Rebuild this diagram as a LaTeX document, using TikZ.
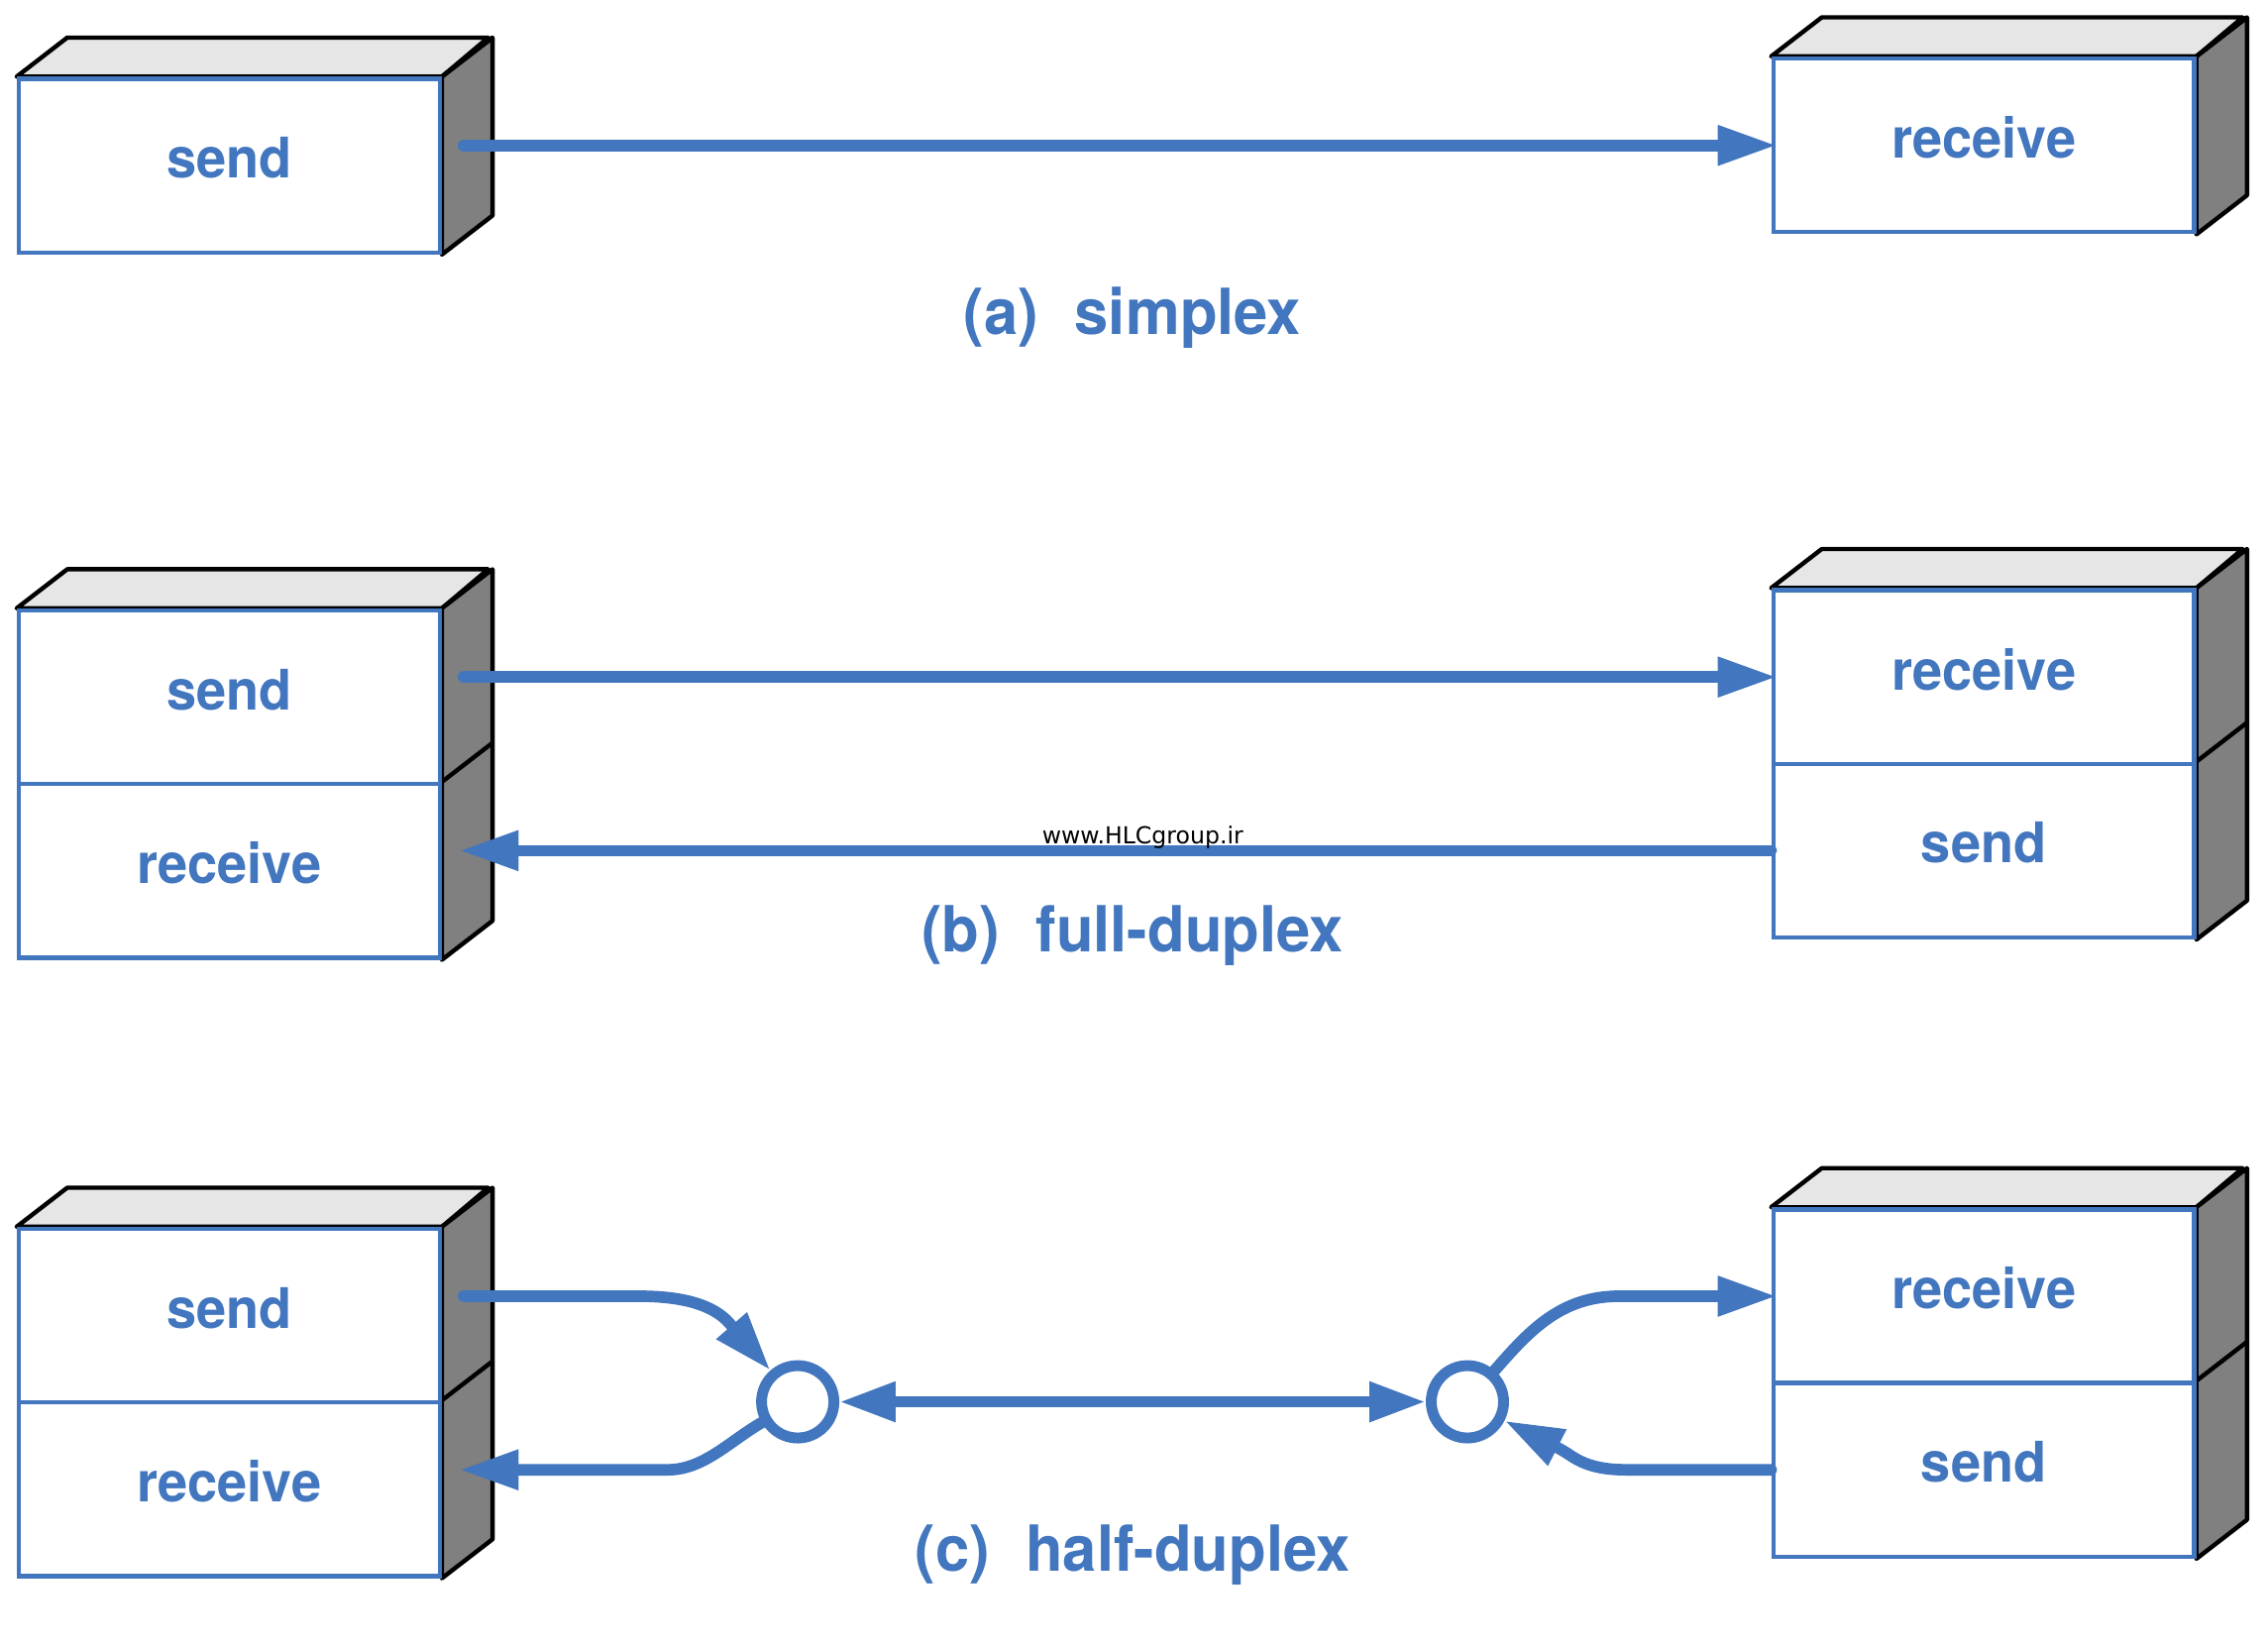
\documentclass[tikz,border=0pt]{standalone}
\usepackage{fontspec}
\setmainfont{TeX Gyre Heros}
\newfontfamily\labfont[FakeStretch=0.96]{TeX Gyre Heros}
\newfontfamily\wmfont{DejaVu Sans}
\usetikzlibrary{arrows.meta,calc,backgrounds}
\definecolor{bl}{RGB}{66,118,190}
\definecolor{topgray}{RGB}{230,230,230}
\definecolor{sidegray}{RGB}{128,128,128}
\newcommand{\boxfaces}[2]{%
  \begin{scope}[on background layer]
    \filldraw[face, fill=topgray] (#1.north west) -- ++(35,-27) -- ++(291,0) -- (#1.north east) -- cycle;
    \filldraw[face, fill=sidegray] (#1.north east) -- ++(35,-27) -- ($(#2.south east)+(35,-27)$) -- (#2.south east) -- cycle;
    \draw[face] (#2.north east) -- ++(35,-27);
  \end{scope}}
\begin{document}
\begin{tikzpicture}[x=0.1mm,y=-0.1mm,
  comp/.style={draw=bl, line width=0.3mm, fill=white, minimum width=29.1mm, minimum height=12mm,
    inner sep=0pt, text depth=1.1mm, text=bl, font=\labfont\bfseries\fontsize{11}{13}\selectfont},
  face/.style={draw=black, line width=0.3mm, line join=round},
  conn/.style={draw=bl, line width=0.8mm, line cap=round, -{Triangle[length=4.1mm,width=2.6mm]}},
  intobox/.style={conn, shorten >=-0.4mm},
  both/.style={conn, {Triangle[length=3.9mm,width=2.6mm]}-{Triangle[length=3.9mm,width=2.6mm]}},
  ring/.style={circle, draw=bl, line width=0.75mm, fill=white, minimum size=5mm, inner sep=0pt},
  title/.style={text=bl, anchor=base, font=\labfont\bfseries\fontsize{12.5}{15}\selectfont},
]
\useasboundingbox (0,0) rectangle (1568,1140);

% ---------- (a) simplex ----------
\node[comp] (aL) at (158.5,114.5) {send};
\node[comp] (aR) at (1371.5,100.5) {receive};
\boxfaces{aL}{aL}
\boxfaces{aR}{aR}
\path (aR.west -| aL.east) ++(15,0) coordinate (aS);
\draw[intobox] (aS) -- (aR.west);
\node[title] (ta) at (783,231) {(a)\hspace{0.57em}simplex};

% ---------- (b) full-duplex ----------
\node[comp] (bL1) at (158.5,482) {send};
\node[comp] (bL2) at (158.5,602) {receive};
\node[comp] (bR1) at (1371.5,468) {receive};
\node[comp] (bR2) at (1371.5,588) {send};
\boxfaces{bL1}{bL2}
\boxfaces{bR1}{bR2}
\path (bR1.west -| bL1.east) ++(15,0) coordinate (bS);
\path (bR2.west -| bL2.east) ++(12,0) coordinate (bE);
\draw[intobox] (bS) -- (bR1.west);
\draw[conn] (bR2.west) -- (bE);
\node[anchor=base, font=\wmfont\fontsize{4.6}{5}\selectfont] (wm) at (790,583) {www.HLCgroup.ir};
\node[title] (tb) at (783,658) {(b)\hspace{0.57em}full-duplex};

% ---------- (c) half-duplex ----------
\node[comp] (cL1) at (158.5,909.5) {send};
\node[comp] (cL2) at (158.5,1029.5) {receive};
\node[comp] (cR1) at (1371.5,896) {receive};
\node[comp] (cR2) at (1371.5,1016) {send};
\boxfaces{cL1}{cL2}
\boxfaces{cR1}{cR2}
\node[ring] (lc) at (551.5,969) {};
\node[ring] (rc) at (1014.5,969) {};
\path (cR1.west -| cL1.east) ++(15,0) coordinate (cS);
\path (cR2.west -| cL2.east) ++(12,0) coordinate (cE);
\draw[conn] (cS) -- ++(121,0) .. controls +(30,0) and ($(lc.center)!3.1!(lc.131)$) .. ($(lc.center)!2.5!(lc.131)$) -- (lc.131);
\draw[conn] (lc.210) .. controls ($(lc.center)!1.9!(lc.210)$) and +(25,0) .. ($(cE)+(144,0)$) -- (cE);
\draw[both] (lc) -- (rc);
\draw[intobox] (rc.49) .. controls ($(rc.center)!2.3!(rc.49)$) and +(-40,0) .. ($(cR1.west)+(-105,0)$) -- (cR1.west);
\draw[conn] (cR2.west) -- ++(-100,0) .. controls +(-30,0) and ($(rc.center)!2.85!(rc.333)$) .. ($(rc.center)!2.5!(rc.333)$) -- (rc.333);
\node[title] (tc) at (783,1086) {(c)\hspace{0.57em}half-duplex};
\end{tikzpicture}
\end{document}
